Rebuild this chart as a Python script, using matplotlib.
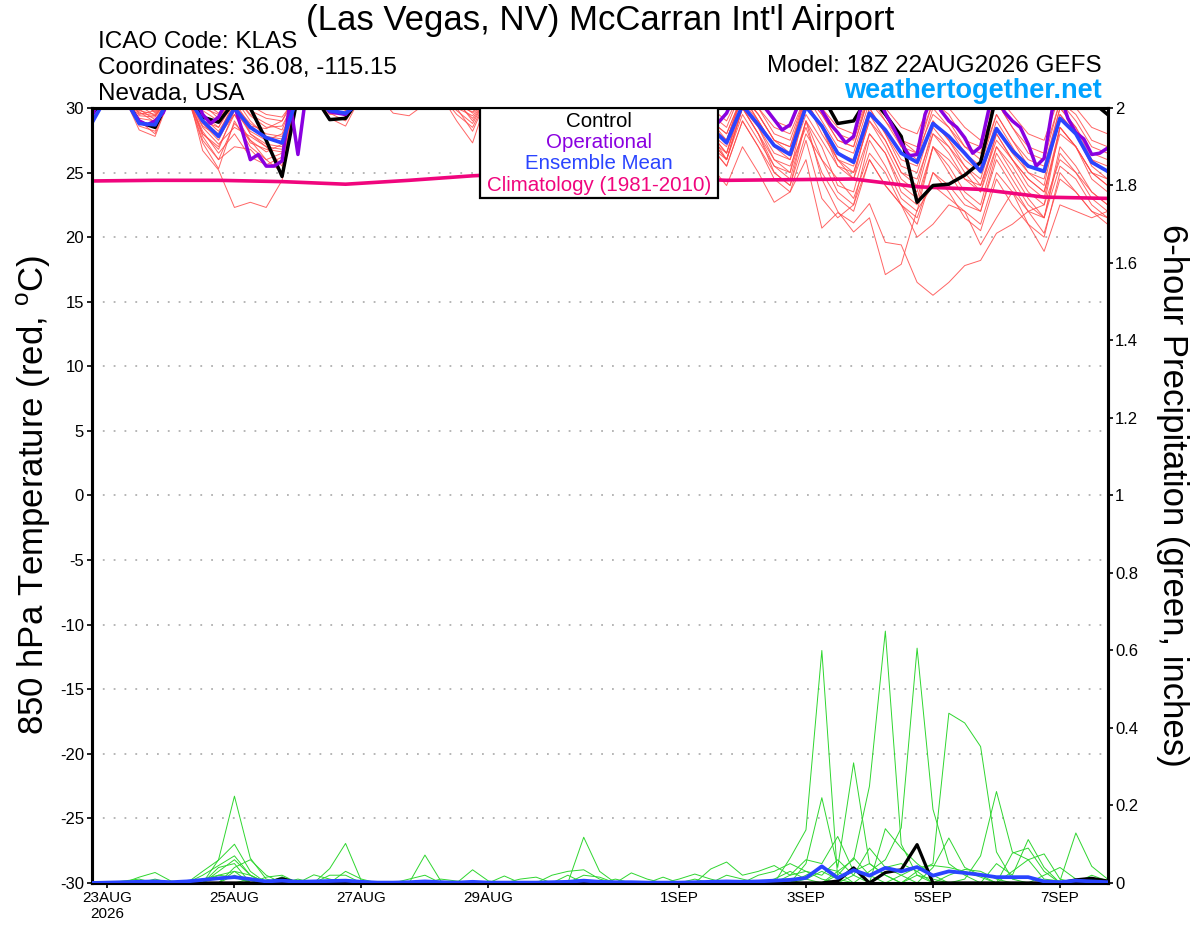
import numpy as np
import pandas as pd
import matplotlib
matplotlib.use("Agg")
import matplotlib.pyplot as plt
from matplotlib.patches import Rectangle

plt.rcParams['font.family'] = ['Liberation Sans', 'DejaVu Sans']
plt.rcParams['mathtext.fontset'] = 'custom'
plt.rcParams['mathtext.rm'] = 'Liberation Sans'
plt.rcParams['axes.unicode_minus'] = False

# time axes: GEFS 6-hourly, operational 3-hourly, climatology daily
times = pd.date_range('2026-08-22 18:00', periods=65, freq='6h')
op_times = pd.date_range('2026-08-22 18:00', periods=129, freq='3h')
clim_times = times[::4]

# 850 hPa temperature (C) -- values above 30 run off the top of the chart
control_t = [29.5, 31, 31, 28.9, 28.5, 31, 31, 29.3, 28.9, 30.5, 30.0, 27.5, 24.7, 31, 31, 29.1, 29.2,
             31, 31, 31, 31, 31, 31, 31, 31,
             31, 31, 30.5, 30, 31, 31, 30.5, 30, 31, 31, 30.5, 30, 31, 31,
             31, 30.5, 31, 31, 31, 31, 31, 31, 28.8, 29.0, 31, 29.5, 27.8, 22.7, 24.0, 24.1, 24.8, 25.8,
             31, 31, 30.2, 31, 31, 31, 30.5, 29.5]

mean_t = [28.8, 31, 31, 28.8, 28.7, 31, 31, 29.0, 27.8, 30.0, 28.5, 27.7, 27.3, 31, 30.8, 29.8, 29.6,
          30.5, 30.8, 30.6, 30.4, 30.8, 30.5, 30.0, 30.0,
          31, 30.5, 29.5, 29, 31, 30, 29, 28.5, 31, 30, 28.5, 28, 31, 30,
          28.5, 27.3, 30.2, 28.7, 27.1, 26.4, 30.1, 28.6, 26.5, 25.8, 29.6, 28.3, 26.5, 25.8, 28.8, 27.8,
          26.5, 25.1, 28.4, 26.7, 25.5, 25.1, 29.2, 28.0, 25.8, 25.1]

oper_t = [29.2, 31, 31, 31, 31, 29.9, 29.0, 28.7, 29.0, 29.6, 31, 31, 31, 31, 29.5, 28.8, 29.3, 30.5,
          30.2, 28.2, 26.0, 26.4, 25.5, 25.5, 25.9, 30.5, 26.4, 31, 31, 30.5, 29.7, 29.6, 29.5, 30.2,
          31, 31, 31, 31, 31, 31, 31, 31, 31, 31, 31, 31, 30.5, 30.2, 30.3, 31,
          31, 31, 30.5, 29.8, 29.3, 29.2, 29.8, 30.8, 31, 31, 30.3, 29.6, 29.0, 28.8, 29.3, 30.5,
          31, 31, 30.2, 29.4, 28.8, 28.6, 29.2, 30.4, 31, 31, 30.2, 29.4,
          29.0, 28.9, 29.6, 31, 31, 31, 30.5, 29.9, 29.1, 28.3, 28.7, 30.2, 31, 31, 29.8, 28.8, 28.1,
          27.3, 27.8, 30.2, 31, 31, 29.6, 28.5, 27.3, 26.3, 26.4, 29.5, 31, 29.8, 29.0, 28.5, 27.7,
          26.5, 27.0, 29.8, 31, 29.7, 29.0, 28.5, 27.2, 25.5, 26.1, 29.8, 31, 29.2, 28.1, 27.6, 26.4,
          26.5, 26.9]

clim_t = [24.35, 24.4, 24.4, 24.3, 24.1, 24.4, 24.75, 25.0, 24.8, 24.6, 24.4, 24.45, 24.5, 23.9,
          23.7, 23.1, 23.0]

# ensemble members
t_mem01 = [30.5, 31, 31.5, 29.5, 29.8, 31, 31.5, 26.7, 25.2, 22.3, 22.7, 22.3, 24.4, 31, 31, 30.5, 30.2,
           31, 31.5, 31, 30.6, 31, 31.5, 30.5, 29.6,
           31, 30, 29, 28.5, 31, 30, 29, 28, 31, 30, 28.5, 28, 31, 29.5,
           28, 26.5, 30.5, 29, 27, 26, 30, 28.5, 26, 25, 29, 27.5, 25, 24.5, 28, 27, 25.5, 24, 27.5, 26,
           24.5, 23.5, 28, 27, 25, 24]
t_mem02 = [29.3, 31, 31, 29, 28.5, 31, 31, 28, 27, 29.5, 27.5, 26, 26.5, 31, 31, 29.5, 29.6,
           31, 31, 30.5, 30.2, 31, 31, 29.5, 28.5,
           31, 30, 28, 27.5, 30.5, 29.5, 28, 27.5, 30.5, 29, 27.5, 27, 30, 28,
           27, 25.5, 29, 27, 24.5, 23.5, 26, 20.7, 21.9, 21.1, 22.6, 19.6, 19.4, 16.5, 15.5, 16.5, 17.8,
           18.2, 20.3, 21, 22, 22.5, 26, 25, 23.5, 22.5]
t_mem03 = [31, 31.5, 31, 30.2, 29.4, 31, 31, 27.5, 26, 27, 26.8, 25.5, 25.8, 31, 30.8, 30.3, 29.3,
           31, 31, 31, 30.5, 31, 31, 30.3, 30.1,
           31, 30, 29, 28, 31, 30, 28.5, 28, 30.5, 29.5, 28, 27.5, 30.5, 29,
           28, 26, 30, 28, 25, 24, 29, 24.5, 22, 20.4, 21.5, 17.1, 17.9, 22.1, 24, 23, 22, 21, 25, 23.5,
           22, 21.5, 25.5, 24.5, 22.5, 21.5]
t_mem04 = [31, 31, 31, 28.6, 28.2, 31, 31, 29, 28, 30.5, 28.6, 28.4, 29, 31.5, 31, 31, 30.8,
           31, 31, 29.6, 29.4, 30.3, 31, 29, 27.3,
           31, 30, 28.5, 28, 30.5, 29, 28, 27, 30, 28.5, 27, 26, 29.5, 27,
           25.5, 24, 27, 25, 22.7, 23.5, 27.5, 23, 21.5, 22.5, 26, 24, 22.5, 21.5, 25, 24, 22.5, 22, 26,
           24, 22, 20.3, 24.5, 23.5, 22, 21.5]
t_mem05 = [30.3, 31, 31, 29.2, 29, 31, 31, 28.5, 27.2, 28.5, 27.8, 27, 26.8, 31, 31, 29.8, 30.1,
           31, 31, 31, 31, 31, 31, 31, 30.2,
           31, 30.5, 29.5, 29, 31, 30, 29, 28.5, 31, 30, 29, 28.5, 31, 30,
           29, 27.5, 31, 29.5, 27.5, 26.5, 30.5, 28.5, 26, 24.5, 28, 26.5, 24, 23, 27, 26, 24.5, 23.5,
           27, 25, 23, 21.5, 26.5, 25, 23, 22]
t_mem06 = [31, 31.5, 32, 30.5, 30.3, 31.5, 31.5, 30.3, 29.2, 31, 29.5, 28.8, 28.3, 31.5, 31.5, 31, 30.5,
           31, 32, 31.5, 31, 31.5, 31.5, 31, 30.5,
           31.5, 31, 30, 29.5, 31.5, 31, 30, 29.5, 31.5, 31, 30, 29.5, 31.5, 30.5,
           30, 29, 31.5, 30.5, 29, 28.5, 31.5, 30, 28.5, 28, 31, 30, 28.5, 28, 31, 30, 28.5, 27.5, 31,
           29.5, 28, 27.5, 31, 30, 28.5, 28]
t_mem07 = [31, 31, 31, 29.7, 28.9, 31, 31, 27.3, 25.3, 29, 27, 26, 25, 31, 31, 30.5, 29.8,
           31, 31, 30.8, 31, 31, 31, 30.4, 29.2,
           31, 30, 29, 28, 30.5, 29.5, 28.5, 27.5, 30, 29, 27.5, 27, 30, 28.5,
           27, 26, 29.5, 27.5, 25.5, 25, 29, 26, 24.5, 23, 26.5, 25, 22.5, 20, 21, 22.5, 22, 19.4, 21.5,
           23.5, 21, 18.9, 22.5, 22, 21.5, 22]
t_mem08 = [30, 31, 31, 29, 28, 31, 31, 29.5, 28.5, 30.8, 29, 27.8, 27.6, 31, 31, 29.2, 28.6,
           31, 31, 31, 31, 30.7, 31, 30, 28.2,
           31, 30.5, 29.5, 29, 31, 30, 29, 28, 31, 30, 28.5, 28, 31, 29.5,
           28.5, 27.5, 31, 29.5, 27.5, 27, 31, 29, 27, 26.5, 30.5, 29, 27.5, 26.5, 29.5, 28.5, 27, 26,
           29.5, 27.5, 26, 25.5, 30, 28.5, 26.5, 26]
t_mem09 = [31, 31, 31, 30.4, 29.7, 31, 31, 28.2, 26.5, 28, 26.2, 25.6, 26.2, 31, 31, 30.8, 30.4,
           31, 31, 31, 30.8, 31, 31, 29.8, 28.8,
           31, 30, 28.5, 28, 30.5, 29.5, 28, 27.5, 30.5, 29, 28, 27, 30.5, 28.5,
           27.5, 26, 30, 28, 25.5, 24.5, 29, 27, 24, 23.5, 28, 26.5, 23.5, 22.5, 27, 25, 23, 22, 26.5,
           24.5, 22.5, 21.5, 27, 25.5, 23.5, 22.5]
t_mem10 = [29.8, 31, 31, 28.3, 27.8, 31, 31, 28.8, 27.5, 30, 28, 27.2, 27, 31, 31, 29.6, 29,
           31, 31, 31, 31, 31, 31, 30.6, 29,
           31, 30.5, 29.5, 29, 31, 30, 29, 28.5, 31, 30, 29, 28, 31, 29.5,
           28, 27, 31, 29, 27, 26.5, 30.5, 28, 26, 25.5, 30, 28, 25.5, 25, 29, 27.5, 25.5, 24.5, 28.5,
           26.5, 25, 24, 29.5, 28, 25.5, 24.5]
t_mem11 = [31, 31, 31, 30.5, 30.2, 31, 31, 29, 28.5, 30.5, 28, 27, 25.5, 31, 31, 31, 31,
           31, 31, 31, 31, 31, 31, 30.8, 30.3,
           31, 30.5, 29.5, 28.5, 31, 30, 29, 28, 31, 29.5, 28.5, 27.5, 30.5, 29,
           27.5, 26.5, 30.5, 28.5, 26, 25, 30.5, 28.5, 25.5, 24.5, 29.5, 27.5, 25, 24, 28.5, 27, 25,
           23.5, 28, 26, 24, 23, 28.5, 27, 24.5, 23.5]
t_mem12 = [31, 31, 31, 29.8, 29.5, 31, 31, 29.8, 29, 31, 29.4, 28.5, 28.6, 31, 31, 31, 30.6,
           31, 31, 31, 31, 31, 31, 31, 30.6,
           31, 31, 30, 29.5, 31, 30.5, 29.5, 29, 31, 30.5, 29.5, 29, 31, 30,
           29.5, 28.5, 31.5, 30, 28.5, 28, 31, 30, 28, 27.5, 31, 29.5, 27.5, 27, 30.5, 29.5, 27.5, 27,
           30.5, 28.5, 27, 26.5, 30.5, 29.5, 27.5, 27]
t_mem13 = [30.8, 31, 31, 29.4, 29.3, 31, 31, 28, 26.8, 29.8, 28.2, 27.5, 28, 31, 31, 30, 30,
           31, 31, 31, 31, 31, 31, 31, 30.4,
           31, 30, 29, 28.5, 31, 30, 28.5, 28, 31, 29.5, 28, 27.5, 30.5, 29,
           28, 26.5, 30, 28, 26, 25.5, 28.5, 25, 23, 22, 26, 24, 22.5, 21, 25, 23.5, 21.5, 20.5, 24.5,
           22.5, 21, 20, 25, 23.5, 22, 21]
t_mem14 = [31, 31, 31, 30.8, 29.6, 31, 31, 27.8, 26, 28.8, 27.5, 26.6, 27.2, 31, 31, 30.6, 30.2,
           31, 31, 31, 31, 31, 31, 30.8, 30,
           31, 30, 29, 28.5, 31, 30, 29, 28, 31, 30, 28.5, 28, 31, 29.5,
           28.5, 27.5, 31, 29, 27, 26.5, 31, 29.5, 27.5, 27, 31, 29, 27, 26, 30, 28.5, 26.5, 25.5, 29.5,
           27.5, 25.5, 25, 30, 28.5, 26, 25]
t_mem15 = [29.5, 31, 31, 29.6, 29.4, 31, 31, 29.3, 28.2, 30.2, 28.8, 28, 27.8, 31, 31, 30, 29.6,
           31, 31, 31, 31, 31, 31, 30.2, 29.7,
           31, 30, 29, 28.5, 31, 30, 29, 28.5, 30.5, 29.5, 28, 27.5, 30.5, 29,
           27, 25.5, 29, 27, 25, 24, 28, 26, 23.5, 22.5, 27.5, 25.5, 23, 22, 27, 25.5, 23.5, 22.5, 27,
           25.5, 23.5, 22.5, 28.5, 27, 25, 24]
t_mem16 = [31, 31, 31, 29.9, 29.1, 31, 31, 28.6, 27.8, 29.5, 27.3, 26.8, 26.6, 31, 31, 30.7, 31,
           31, 31, 31, 31, 31, 31, 30, 29.4,
           31, 30.5, 29.5, 29, 31, 30, 29, 28.5, 31, 30, 29, 28.5, 31, 30,
           29, 28, 31, 30, 28, 27.5, 31, 29.5, 27.5, 27, 31, 29.5, 27, 26.5, 30.5, 29, 27, 26.5, 30.5,
           28.5, 26.5, 26, 30.5, 29, 27, 26.5]
t_mem17 = [31, 31, 31, 31, 30.5, 31, 31, 30.5, 29.6, 31, 30.2, 29.5, 29.3, 31, 31, 31, 31,
           31, 31, 31, 31, 31, 31, 31, 31,
           31, 30.5, 29.5, 29, 31, 30, 29, 28.5, 31, 29.5, 28, 27, 30.5, 28.5,
           27.5, 26, 30, 28.5, 26.5, 26, 29.5, 27.5, 25.5, 25, 29, 27, 24.5, 23.5, 28, 26.5, 24.5, 24,
           28, 26, 24.5, 23.5, 28.5, 27, 25, 24.5]
t_mem18 = [31, 31, 31, 30.6, 30.4, 31, 31, 30, 29.5, 31, 29.8, 29.2, 29, 31, 31, 31, 31,
           31, 31, 31, 31, 31, 31, 31, 30.8,
           31, 30.5, 30, 29.5, 31, 30.5, 29.5, 29, 31, 30, 29, 28.5, 31, 30,
           29, 28, 31, 29.5, 27.5, 27, 30.5, 28.5, 26.5, 26, 30, 28, 26, 25.5, 29, 27.5, 26, 25, 29, 27,
           25, 24.5, 29.5, 28, 26, 25.5]

temp_members = [t_mem01, t_mem02, t_mem03, t_mem04, t_mem05, t_mem06, t_mem07, t_mem08, t_mem09,
                t_mem10, t_mem11, t_mem12, t_mem13, t_mem14, t_mem15, t_mem16, t_mem17, t_mem18]

# 6-hour precipitation (inches)
control_p = [0] * 65
control_p[12] = 0.011
control_p[47] = 0.005
control_p[48] = 0.039
control_p[50] = 0.027
control_p[51] = 0.034
control_p[52] = 0.099
control_p[62] = 0.008
control_p[63] = 0.012
control_p[64] = 0.005

mean_p = [0, 0.001, 0.002, 0.003, 0.004, 0.002, 0.004, 0.008, 0.012, 0.015, 0.01, 0.004, 0.006,
          0.003, 0.004, 0.005, 0.006, 0.003, 0.001, 0.001, 0.002, 0.004, 0.002, 0.001, 0.003, 0.001,
          0.001, 0.001, 0.001, 0.002, 0.003, 0.006, 0.003, 0.002, 0.002, 0.001, 0.001, 0.001, 0.002,
          0.003, 0.004, 0.003, 0.004, 0.006, 0.008, 0.013, 0.043, 0.013, 0.033, 0.019, 0.039, 0.030,
          0.041, 0.019, 0.030, 0.026, 0.021, 0.015, 0.015, 0.015, 0.004, 0.002, 0.006, 0.004, 0.002]

# members: only the 6-hour steps with rain are listed, the rest are 0
p_mem01 = {8: 0.06, 9: 0.224, 10: 0.064, 11: 0.01, 44: 0.064, 45: 0.137, 46: 0.60, 47: 0.01,
           48: 0.03, 49: 0.05, 50: 0.02}
p_mem02 = {7: 0.03, 8: 0.059, 9: 0.1, 10: 0.03, 15: 0.037, 16: 0.102, 17: 0.005, 45: 0.05,
           46: 0.22, 47: 0.04, 48: 0.31, 49: 0.05, 50: 0.02}
p_mem03 = {3: 0.015, 4: 0.027, 5: 0.005, 9: 0.04, 10: 0.06, 11: 0.02, 21: 0.072, 22: 0.005,
           47: 0.03, 48: 0.06, 49: 0.25, 50: 0.65, 51: 0.1, 52: 0.02}
p_mem04 = {8: 0.04, 9: 0.05, 12: 0.016, 14: 0.021, 15: 0.01, 26: 0.018, 31: 0.118, 32: 0.03,
           49: 0.03, 50: 0.06, 51: 0.142, 52: 0.606, 53: 0.19, 54: 0.05, 55: 0.02}
p_mem05 = {2: 0.005, 3: 0.01, 8: 0.03, 9: 0.06, 10: 0.02, 20: 0.01, 21: 0.02, 24: 0.034,
           25: 0.005, 52: 0.03, 53: 0.05, 54: 0.438, 55: 0.413, 56: 0.352, 57: 0.08, 58: 0.01}
p_mem06 = {9: 0.03, 10: 0.02, 15: 0.02, 16: 0.02, 29: 0.02, 30: 0.03, 31: 0.034, 32: 0.01,
           55: 0.01, 56: 0.07, 57: 0.236, 58: 0.08, 59: 0.06, 60: 0.01, 61: 0.005, 62: 0.129,
           63: 0.043, 64: 0.01}
p_mem07 = {7: 0.02, 8: 0.045, 9: 0.07, 10: 0.02, 34: 0.026, 35: 0.01, 39: 0.036, 40: 0.054,
           41: 0.02, 42: 0.03, 43: 0.045, 44: 0.02, 45: 0.06, 46: 0.05, 47: 0.12, 48: 0.03,
           49: 0.02, 50: 0.04, 51: 0.05, 52: 0.03}
p_mem08 = {11: 0.015, 12: 0.02, 27: 0.01, 28: 0.015, 37: 0.01, 38: 0.023, 39: 0.01, 42: 0.02,
           43: 0.03, 44: 0.05, 45: 0.03, 46: 0.02, 47: 0.06, 48: 0.02, 50: 0.14, 51: 0.09,
           52: 0.05, 53: 0.02, 57: 0.05, 58: 0.02, 59: 0.112, 60: 0.04}
p_mem09 = {9: 0.02, 16: 0.03, 17: 0.01, 33: 0.01, 36: 0.015, 44: 0.02, 45: 0.03, 46: 0.01,
           48: 0.02, 49: 0.09, 50: 0.04, 51: 0.02, 53: 0.04, 54: 0.116, 55: 0.04, 56: 0.02,
           58: 0.077, 59: 0.09, 60: 0.03}
p_mem10 = {7: 0.01, 8: 0.02, 9: 0.03, 30: 0.02, 40: 0.02, 41: 0.01, 45: 0.02, 46: 0.04,
           47: 0.03, 51: 0.02, 52: 0.04, 53: 0.045, 54: 0.04, 55: 0.03, 56: 0.015, 60: 0.02,
           61: 0.04, 62: 0.01}
p_mem11 = {4: 0.01, 10: 0.01, 13: 0.01, 22: 0.01, 23: 0.005, 38: 0.01, 43: 0.01, 44: 0.03,
           45: 0.01, 47: 0.02, 48: 0.065, 49: 0.02, 54: 0.02, 55: 0.035, 56: 0.03, 57: 0.01,
           63: 0.02, 64: 0.005}
p_mem12 = {8: 0.02, 9: 0.015, 31: 0.02, 32: 0.015, 45: 0.01, 46: 0.03, 47: 0.01, 52: 0.02,
           53: 0.01, 58: 0.03, 59: 0.06, 60: 0.075, 61: 0.01}

precip_members = [p_mem01, p_mem02, p_mem03, p_mem04, p_mem05, p_mem06, p_mem07, p_mem08,
                  p_mem09, p_mem10, p_mem11, p_mem12]

xtick_dates = ['2026-08-23', '2026-08-25', '2026-08-27', '2026-08-29',
               '2026-09-01', '2026-09-03', '2026-09-05', '2026-09-07']
xtick_labels = ['23AUG\n2026', '25AUG', '27AUG', '29AUG', '1SEP', '3SEP', '5SEP', '7SEP']
t_ticks = list(range(-30, 31, 5))
p_ticks = [0, 0.2, 0.4, 0.6, 0.8, 1, 1.2, 1.4, 1.6, 1.8, 2]
p_tick_labels = ['0', '0.2', '0.4', '0.6', '0.8', '1', '1.2', '1.4', '1.6', '1.8', '2']

legend_names = ['Control', 'Operational', 'Ensemble Mean', 'Climatology (1981-2010)']

c_member = '#ff4a4a'
c_rain = '#2fd62f'
c_control = 'black'
c_oper = '#8a00e0'
c_mean = '#2a44ff'
c_clim = '#f0057d'

fig = plt.figure(figsize=(12, 9.27), dpi=100)
ax = fig.add_axes([0.0763, 0.0475, 0.8467, 0.836])
ax2 = ax.twinx()

# temperature
for m in temp_members:
    ax.plot(times, m, color=c_member, lw=0.7, alpha=0.85, zorder=2)
ax.plot(clim_times, clim_t, color=c_clim, lw=2.6, zorder=3)
ax.plot(times, control_t, color=c_control, lw=2.5, zorder=4)
ax.plot(op_times, oper_t, color=c_oper, lw=2.5, zorder=5)
ax.plot(times, mean_t, color=c_mean, lw=2.7, zorder=6)

# precipitation
for d in precip_members:
    vals = np.zeros(len(times))
    for k, v in d.items():
        vals[k] = v
    ax2.plot(times, vals, color=c_rain, lw=0.7, zorder=2)
ax2.plot(times, control_p, color=c_control, lw=2.3, zorder=3)
ax2.plot(times, mean_p, color=c_mean, lw=2.7, zorder=4)

ax.set_xlim(times[0], times[-1])
ax.set_ylim(-30, 30)
ax2.set_ylim(0, 2)

ax.set_xticks(pd.to_datetime(xtick_dates))
ax.set_xticklabels(xtick_labels, fontsize=11)
ax.set_yticks(t_ticks)
ax.set_yticklabels([str(t) for t in t_ticks], fontsize=12)
ax2.set_yticks(p_ticks)
ax2.set_yticklabels(p_tick_labels, fontsize=12)

ax.tick_params(axis='both', direction='out', length=3.5, width=1.2, pad=2)
ax2.tick_params(axis='y', direction='out', length=3.5, width=1.2, pad=2)

ax.yaxis.grid(True, color='#b0b0b0', linestyle=(0, (1, 5)), lw=1.3)

for sp in ax.spines.values():
    sp.set_linewidth(2.2)
for sp in ax2.spines.values():
    sp.set_linewidth(2.2)

# axis titles
fig.text(0.028, 0.466, '850 hPa Temperature (red, $^{\\rm o}$C)', rotation=90,
         ha='center', va='center', fontsize=25)
fig.text(0.977, 0.466, '6-hour Precipitation (green, inches)', rotation=-90,
         ha='center', va='center', fontsize=25)

# legend box drawn on top
ax2.add_patch(Rectangle((0.3823, 0.8839), 0.2342, 0.1161, transform=ax2.transAxes,
                        facecolor='white', edgecolor='black', lw=1.6, zorder=10))
leg_y = [0.9832, 0.9561, 0.9290, 0.9006]
leg_c = [c_control, c_oper, c_mean, c_clim]
for name, yy, cc in zip(legend_names, leg_y, leg_c):
    ax2.text(0.4994, yy, name, transform=ax2.transAxes, ha='center', va='center',
             color=cc, fontsize=14.8, zorder=11)

# header texts
fig.text(0.5, 0.978, "(Las Vegas, NV) McCarran Int'l Airport", ha='center', va='center', fontsize=25)
fig.text(0.0817, 0.955, 'ICAO Code: KLAS', ha='left', va='center', fontsize=17.5)
fig.text(0.0817, 0.927, 'Coordinates: 36.08, -115.15', ha='left', va='center', fontsize=17.5)
fig.text(0.0817, 0.899, 'Nevada, USA', ha='left', va='center', fontsize=17.5)
fig.text(0.918, 0.929, 'Model: 18Z 22AUG2026 GEFS', ha='right', va='center', fontsize=17.5)
fig.text(0.918, 0.902, 'weathertogether.net', ha='right', va='center', fontsize=19.5,
         fontweight='bold', color='#00a2ff')

fig.savefig('out.png', dpi=100)
